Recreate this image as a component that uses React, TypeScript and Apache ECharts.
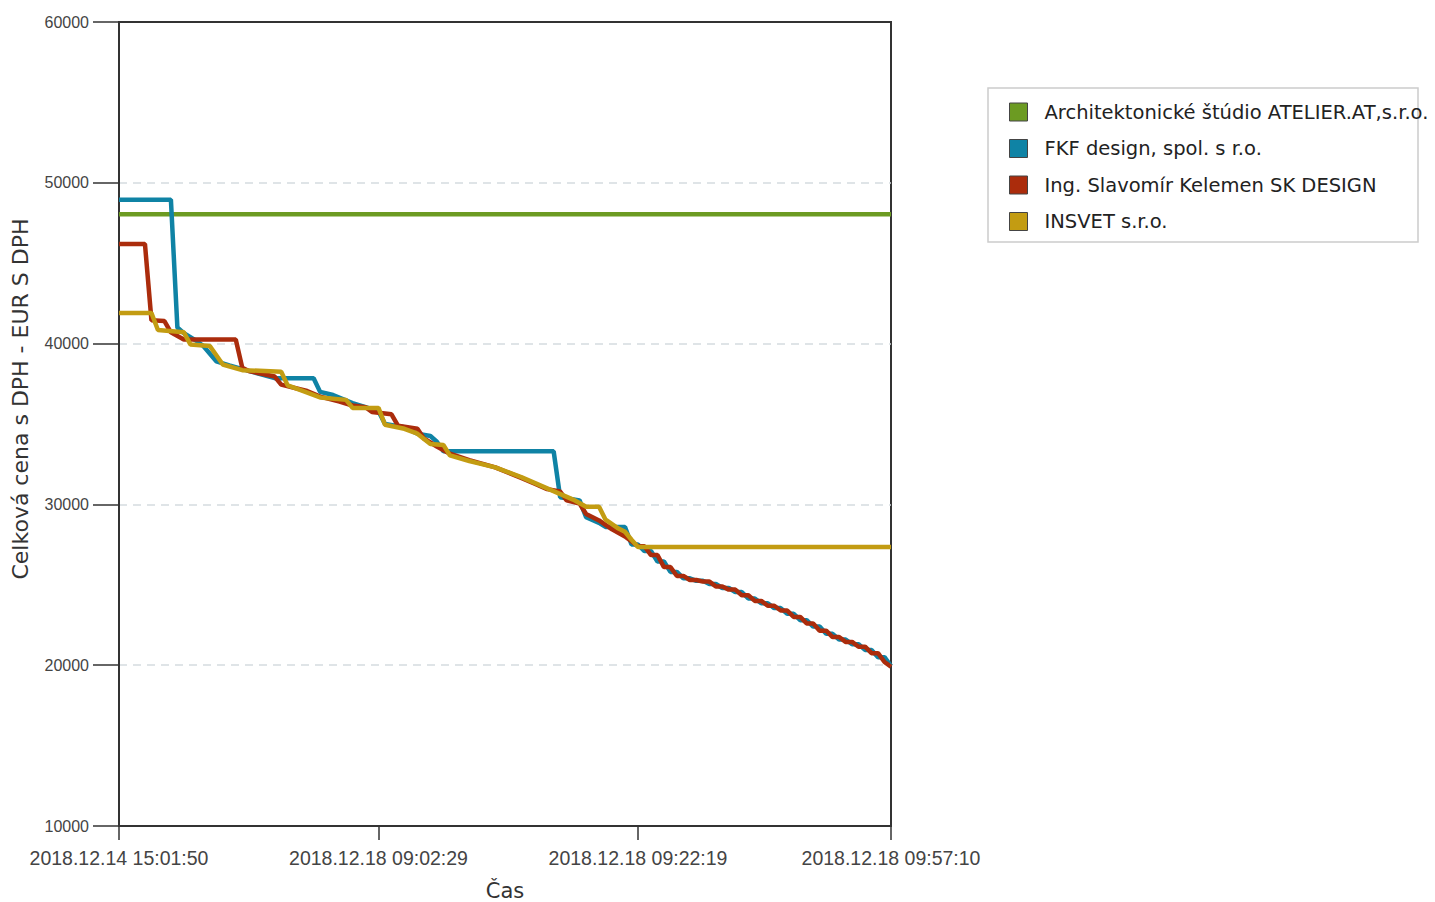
import React, { useEffect, useRef } from "react";
import * as echarts from "echarts";

const seriesNames = [
  "Architektonické štúdio ATELIER.AT,s.r.o.",
  "FKF design, spol. s r.o.",
  "Ing. Slavomír Kelemen SK DESIGN",
  "INSVET s.r.o.",
];
const seriesColors = ["#6c9b22", "#0f83a5", "#ab2c0c", "#c39c12"];

const tickIndices = [0, 40, 80, 119];
const tickLabels = [
  "2018.12.14 15:01:50",
  "2018.12.18 09:02:29",
  "2018.12.18 09:22:19",
  "2018.12.18 09:57:10",
];

const greenIdx = [0, 119];
const greenVal = [48050, 48050];

const blueIdx = [0, 8, 9, 10, 12, 13, 15, 17, 20, 24, 30, 31, 33, 36, 38, 40, 41, 44, 46, 48, 49, 50, 67, 68, 71, 72, 74, 75, 78, 79, 80, 81, 82, 83, 84, 85, 86, 87, 88, 89, 90, 91, 92, 93, 94, 95, 96, 97, 98, 99, 100, 101, 102, 103, 104, 105, 106, 107, 108, 109, 110, 111, 112, 113, 114, 115, 116, 117, 118, 119];
const blueVal = [48950, 48950, 41000, 40650, 40150, 39850, 38900, 38650, 38300, 37850, 37850, 37000, 36800, 36300, 36050, 35800, 35000, 34800, 34400, 34250, 33900, 33300, 33300, 30450, 30250, 29200, 28850, 28600, 28600, 27500, 27500, 27100, 27100, 26450, 26450, 25800, 25800, 25400, 25400, 25250, 25250, 25050, 25050, 24800, 24800, 24550, 24550, 24150, 24150, 23850, 23850, 23550, 23550, 23200, 23200, 22800, 22800, 22400, 22400, 21950, 21950, 21600, 21600, 21300, 21300, 20950, 20950, 20500, 20500, 19950];

const redIdx = [0, 4, 5, 7, 8, 10, 18, 19, 20, 24, 25, 29, 31, 34, 36, 38, 39, 42, 43, 46, 47, 49, 51, 54, 58, 62, 64, 66, 68, 69, 71, 72, 74, 76, 78, 80, 81, 82, 83, 84, 85, 86, 87, 88, 89, 90, 91, 92, 93, 94, 95, 96, 97, 98, 99, 100, 101, 102, 103, 104, 105, 106, 107, 108, 109, 110, 111, 112, 113, 114, 115, 116, 117, 118, 119];
const redVal = [46200, 46200, 41450, 41400, 40700, 40250, 40250, 38500, 38300, 37950, 37450, 37050, 36700, 36400, 36150, 36050, 35750, 35600, 34900, 34700, 34100, 33600, 33150, 32750, 32300, 31650, 31300, 30950, 30800, 30250, 30050, 29400, 29000, 28450, 28000, 27400, 27400, 26850, 26850, 26100, 26100, 25550, 25550, 25300, 25300, 25200, 25200, 24900, 24900, 24700, 24700, 24350, 24350, 24000, 24000, 23700, 23700, 23400, 23400, 23000, 23000, 22600, 22600, 22150, 22150, 21750, 21750, 21450, 21450, 21150, 21150, 20750, 20750, 20200, 19900];

const yellowIdx = [0, 5, 6, 10, 11, 14, 16, 19, 25, 26, 28, 31, 35, 36, 40, 41, 44, 46, 48, 50, 51, 54, 58, 62, 66, 70, 72, 74, 75, 77, 78, 79, 80, 119];
const yellowVal = [41900, 41900, 40850, 40700, 39950, 39850, 38700, 38350, 38250, 37400, 37100, 36650, 36500, 36000, 36000, 34950, 34700, 34400, 33750, 33700, 33050, 32700, 32300, 31700, 31000, 30300, 29850, 29850, 29050, 28500, 28300, 27800, 27350, 27350];

const yMin = 10000;
const yMax = 60000;
const yStep = 10000;
const xMax = 119;

function zip(idx: number[], val: number[]) {
  return idx.map((x, i) => [x, val[i]]);
}

export default function App() {
  const ref = useRef<HTMLDivElement>(null);
  useEffect(() => {
    if (!ref.current) return;
    const chart = echarts.init(ref.current, null, { renderer: "svg" });
    const datasets = [
      zip(greenIdx, greenVal),
      zip(blueIdx, blueVal),
      zip(redIdx, redVal),
      zip(yellowIdx, yellowVal),
    ];
    const labelFont = "'Liberation Sans', Arial, sans-serif";
    const textFont = "'DejaVu Sans', Verdana, sans-serif";
    chart.setOption({
      animation: false,
      backgroundColor: "#ffffff",
      grid: {
        left: 119,
        top: 22,
        right: 1435 - 891,
        bottom: 902 - 826,
        show: true,
        borderColor: "#333",
        borderWidth: 2,
        backgroundColor: "transparent",
        containLabel: false,
        outerBoundsMode: "none",
      },
      legend: {
        orient: "vertical",
        left: 1001,
        top: 94,
        icon: "rect",
        itemWidth: 18,
        itemHeight: 18,
        itemGap: 16.5,
        padding: [8, 8, 8, 8],
        selectedMode: false,
        itemStyle: { borderColor: "#444", borderWidth: 1 },
        textStyle: {
          fontFamily: textFont,
          fontSize: 19.5,
          color: "#222",
          padding: [0, 0, 0, 12],
        },
        data: seriesNames,
      },
      graphic: [
        {
          type: "rect",
          shape: { x: 988, y: 88, width: 430, height: 154 },
          style: { fill: "none", stroke: "#cccccc", lineWidth: 1.5 },
          silent: true,
        },
      ],
      xAxis: {
        type: "value",
        min: 0,
        max: xMax,
        name: "Čas",
        nameLocation: "middle",
        nameGap: 54,
        nameTextStyle: { fontFamily: textFont, fontSize: 21, color: "#333" },
        axisLine: { show: true, lineStyle: { color: "#333", width: 2 } },
        axisTick: {
          show: true,
          length: 14,
          lineStyle: { color: "#333", width: 1.5 },
          customValues: tickIndices,
        },
        axisLabel: {
          customValues: tickIndices,
          margin: 22,
          fontFamily: labelFont,
          fontSize: 19.5,
          color: "#444",
          formatter: (v: number) => {
            const k = tickIndices.indexOf(Math.round(v));
            return k >= 0 ? tickLabels[k] : "";
          },
        },
        splitLine: { show: false },
      },
      yAxis: {
        type: "value",
        min: yMin,
        max: yMax,
        interval: yStep,
        name: "Celková cena s DPH - EUR S DPH",
        nameLocation: "middle",
        nameGap: 88,
        nameRotate: 90,
        nameTextStyle: {
          fontFamily: textFont,
          fontSize: 22,
          color: "#333",
          padding: [0, 0, 0, 50],
        },
        axisLine: { show: true, lineStyle: { color: "#333", width: 2 } },
        axisTick: { show: true, length: 26, lineStyle: { color: "#333", width: 1.5 } },
        axisLabel: {
          margin: 30,
          fontFamily: labelFont,
          fontSize: 16,
          color: "#444",
          formatter: (v: number) => String(v),
        },
        splitLine: {
          show: true,
          showMinLine: false,
          showMaxLine: false,
          lineStyle: { color: "#d5dbe0", type: [8, 6], width: 1.5 },
        },
      },
      series: datasets.map((d, i) => ({
        name: seriesNames[i],
        type: "line",
        data: d,
        showSymbol: false,
        symbol: "none",
        lineStyle: { color: seriesColors[i], width: 4.5 },
        itemStyle: { color: seriesColors[i] },
        z: 2 + i,
      })),
    });
    return () => chart.dispose();
  }, []);
  return (
    <div
      ref={ref}
      style={{ position: "absolute", left: 0, top: 0, width: 1435, height: 902 }}
    />
  );
}
